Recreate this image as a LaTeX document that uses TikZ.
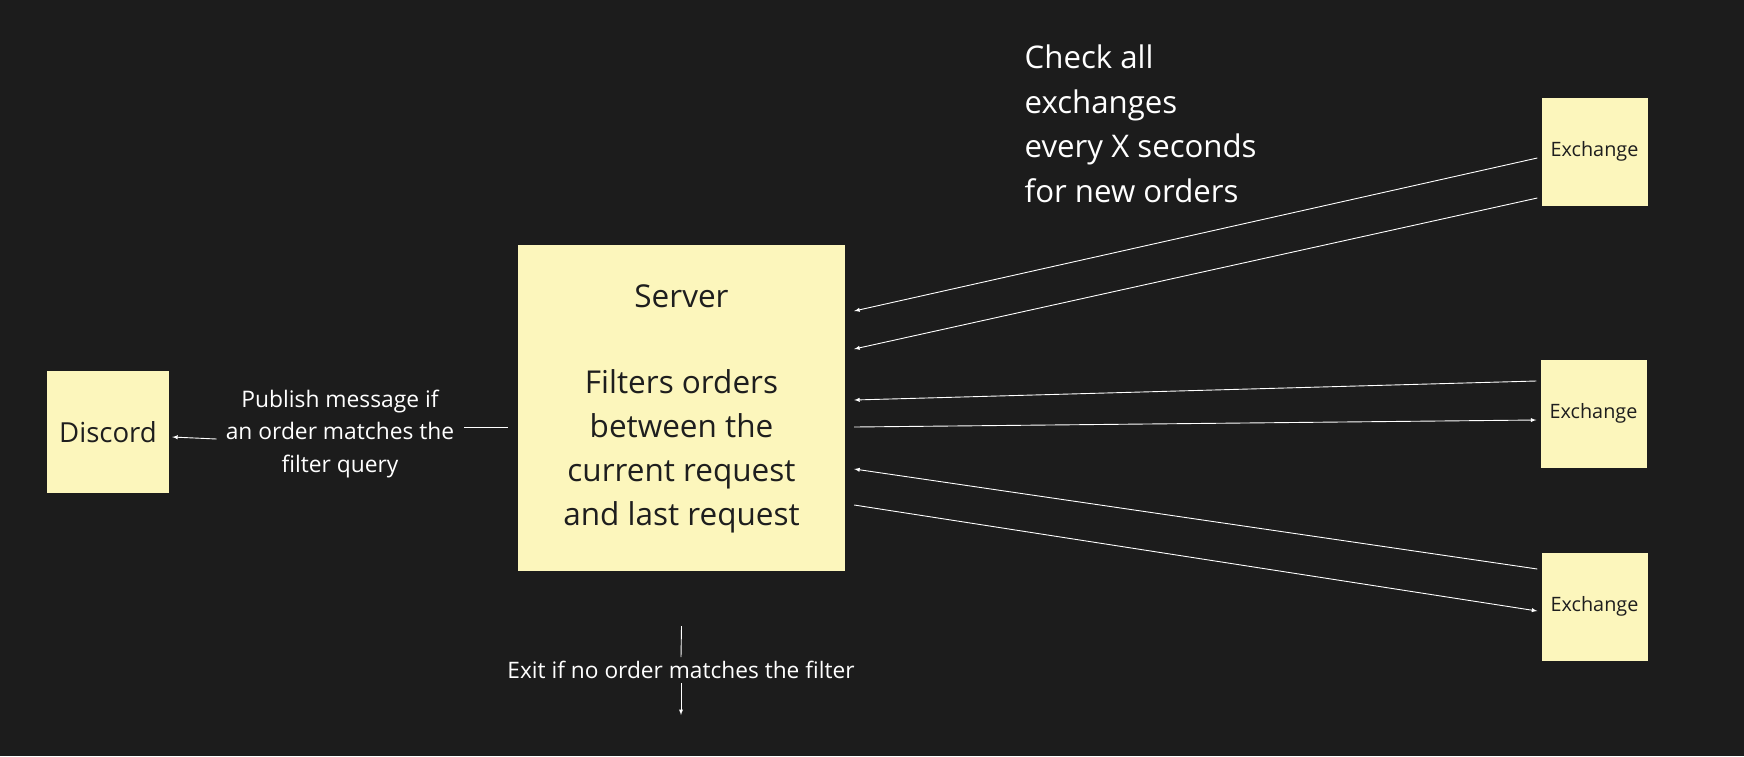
\documentclass[tikz,border=0pt]{standalone}
\usepackage{fontspec}
\setmainfont{Open Sans}
\usepackage{tikz}
\usetikzlibrary{arrows,positioning}
\definecolor{board}{HTML}{1C1C1C}
\definecolor{note}{HTML}{FCF6BC}
\definecolor{ink}{HTML}{1E1E1E}
\tikzstyle{sticky}=[rectangle,fill=note,text=ink,inner sep=0pt,align=center]
\tikzstyle{label}=[text=white,inner sep=2pt,align=center]
\tikzstyle{link}=[draw=white,line width=0.9pt,-latex]
\tikzstyle{plain link}=[draw=white,line width=0.9pt]

\begin{document}
\begin{tikzpicture}[x=1pt,y=-1pt]
\fill[board] (0,0) rectangle (1744,756);
\node[sticky, minimum width=327pt, minimum height=326pt] (srv) at (681.5,408) {};
\node[sticky, minimum width=122pt, minimum height=122pt, font=\fontsize{27.6}{31}\selectfont] (disc) at (108,432) {Discord};
\node[sticky, minimum width=106pt, minimum height=108pt, font=\fontsize{19.8}{23}\selectfont] (ex1) at (1594.5,151.5) {Exchange};
\node[sticky, minimum width=106pt, minimum height=108pt, font=\fontsize{19.8}{23}\selectfont] (ex2) at (1593.5,413.5) {Exchange};
\node[sticky, minimum width=106pt, minimum height=108pt, font=\fontsize{19.8}{23}\selectfont] (ex3) at (1594.5,606.5) {Exchange};
\node[text=ink, align=center, font=\fontsize{31.5}{44}\selectfont] (srvtitle) at (681.5,296) {Server};
\node[text=ink, align=center, font=\fontsize{31.5}{44}\selectfont] (srvtext) at (681.5,451.5) {Filters orders\\between the\\current request\\and last request};
\node[label, anchor=west, align=left, font=\fontsize{31.2}{44.5}\selectfont] (check) at (1022.5,124) {Check all\\exchanges\\every X seconds\\for new orders};
\node[label, font=\fontsize{22.8}{32.5}\selectfont] (pub) at (340,434) {Publish message if\\an order matches the\\filter query};
\node[label, font=\fontsize{22.7}{26}\selectfont] (exit) at (681,670) {Exit if no order matches the filter};
\coordinate (out) at (681,715);

% server <-> exchanges
\draw[link] ([xshift=-4pt,yshift=-6.5pt]ex1.west) -- ([xshift=9pt,yshift=97pt]srv.east);
\draw[link] ([xshift=-4pt,yshift=-46.5pt]ex1.west) -- ([xshift=9pt,yshift=59pt]srv.east);
\draw[link] ([xshift=-4pt,yshift=32.5pt]ex2.west) -- ([xshift=9pt,yshift=8pt]srv.east);
\draw[link] ([xshift=9pt,yshift=-19pt]srv.east) -- ([xshift=-4pt,yshift=-6.5pt]ex2.west);
\draw[link] ([xshift=-4pt,yshift=37.5pt]ex3.west) -- ([xshift=9pt,yshift=-61pt]srv.east);
\draw[link] ([xshift=9pt,yshift=-97pt]srv.east) -- ([xshift=-4pt,yshift=-4.5pt]ex3.west);

% server -> discord
\draw[plain link] ([xshift=-10pt,yshift=-19pt]srv.west) -- ([xshift=8pt,yshift=7pt]pub.east);
\draw[link] ([xshift=-7pt,yshift=-5pt]pub.west) -- ([xshift=3pt,yshift=-5pt]disc.east);

% exit
\draw[plain link] ([yshift=-55pt]srv.south) -- ([yshift=2pt]exit.north);
\draw[link] ([yshift=-2pt]exit.south) -- (out);
\end{tikzpicture}
\end{document}
